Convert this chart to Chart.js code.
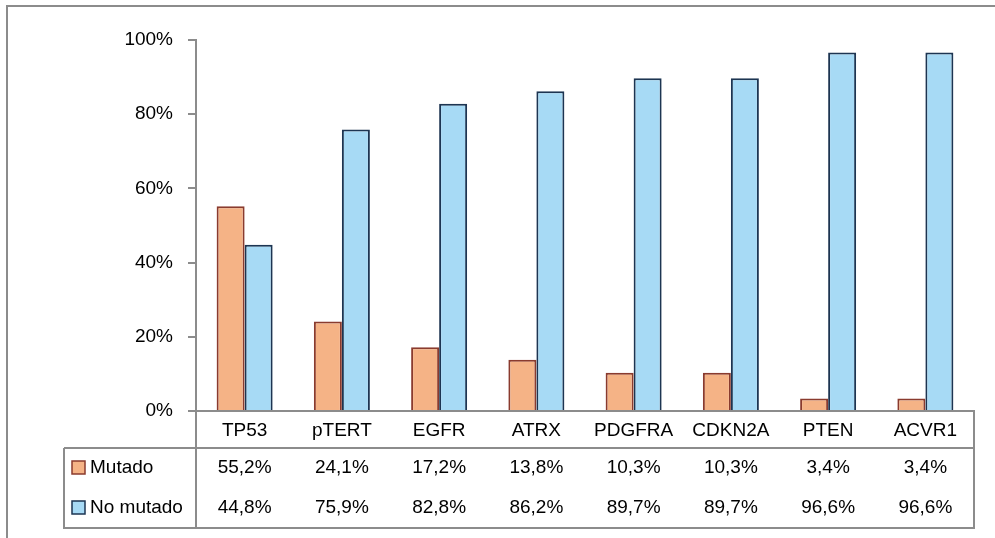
<!DOCTYPE html>
<html>
<head>
<meta charset="utf-8">
<script src="https://cdn.jsdelivr.net/npm/chart.js@4"></script>
<style>
  body { margin: 0; background: #fff; overflow: hidden; }
  canvas { display: block; }
</style>
</head>
<body>
<canvas id="myChart" width="995" height="538"></canvas>
<script>
var genes = ["TP53", "pTERT", "EGFR", "ATRX", "PDGFRA", "CDKN2A", "PTEN", "ACVR1"]
var mutado = [55.2, 24.1, 17.2, 13.8, 10.3, 10.3, 3.4, 3.4]
var noMutado = [44.8, 75.9, 82.8, 86.2, 89.7, 89.7, 96.6, 96.6]
var yTicks = [0, 20, 40, 60, 80, 100]

var lineGray = "#8c8c8c"

function pct(v) {
    return v.toFixed(1).replace(".", ",") + "%"
}

// outer frame of the chart box
var framePlugin = {
    id: "frame",
    beforeDraw: function(chart) {
        var ctx = chart.ctx
        ctx.save()
        ctx.strokeStyle = lineGray
        ctx.lineWidth = 2
        ctx.beginPath()
        ctx.moveTo(7, chart.height)
        ctx.lineTo(7, 6)
        ctx.lineTo(chart.width, 6)
        ctx.stroke()
        ctx.restore()
    }
}

// data table under the x axis, one row per series
var tablePlugin = {
    id: "dataTable",
    afterDraw: function(chart) {
        var ctx = chart.ctx
        var area = chart.chartArea
        var xs = chart.scales.x
        var rowTop = area.bottom + 37
        var rowH = 40
        var tableLeft = 64
        var bottom = rowTop + rowH * chart.data.datasets.length

        ctx.save()
        ctx.strokeStyle = lineGray
        ctx.lineWidth = 2
        ctx.beginPath()
        // label column divider (continues the y axis)
        ctx.moveTo(area.left, area.bottom)
        ctx.lineTo(area.left, bottom)
        // right edge
        ctx.moveTo(area.right, area.bottom)
        ctx.lineTo(area.right, bottom)
        // header row bottom
        ctx.moveTo(tableLeft, rowTop)
        ctx.lineTo(area.right, rowTop)
        // table bottom and left edge
        ctx.moveTo(tableLeft - 1, bottom)
        ctx.lineTo(area.right + 1, bottom)
        ctx.moveTo(tableLeft, rowTop)
        ctx.lineTo(tableLeft, bottom)
        ctx.stroke()

        ctx.font = "19px 'Liberation Sans', Arial, sans-serif"
        ctx.fillStyle = "#000"
        ctx.textBaseline = "middle"

        chart.data.datasets.forEach(function(ds, r) {
            var cy = rowTop + rowH * r + rowH / 2
            // legend key
            ctx.fillStyle = ds.backgroundColor
            ctx.fillRect(72, cy - 7, 13, 13)
            ctx.strokeStyle = ds.borderColor
            ctx.lineWidth = 1.5
            ctx.strokeRect(72, cy - 7, 13, 13)
            ctx.fillStyle = "#000"
            ctx.textAlign = "left"
            ctx.fillText(ds.label, 90, cy)
            ctx.textAlign = "center"
            ds.data.forEach(function(v, i) {
                ctx.fillText(pct(v), xs.getPixelForValue(i), cy)
            })
        })
        ctx.restore()
    }
}

Chart.defaults.font.family = "'Liberation Sans', Arial, sans-serif"
Chart.defaults.font.size = 19
Chart.defaults.color = "#000"

var myChart = document.getElementById("myChart").getContext("2d")

var chart = new Chart(myChart, {
    type: "bar",
    data: {
        labels: genes,
        datasets: [
            {
                label: "Mutado",
                data: mutado,
                backgroundColor: "#f5b386",
                borderColor: "#8a3b2e",
                borderWidth: 2
            },
            {
                label: "No mutado",
                data: noMutado,
                backgroundColor: "#a7daf5",
                borderColor: "#1d3552",
                borderWidth: 2
            }
        ]
    },
    options: {
        responsive: false,
        animation: false,
        categoryPercentage: 0.576,
        barPercentage: 1,
        layout: { padding: { top: 40, right: 21, left: 0, bottom: 0 } },
        plugins: {
            legend: { display: false },
            tooltip: { enabled: false }
        },
        scales: {
            x: {
                grid: { display: false, drawTicks: false },
                border: { display: true, color: lineGray, width: 2 },
                ticks: { padding: 8, maxRotation: 0 },
                afterFit: function(scale) { scale.height = 127 }
            },
            y: {
                min: 0,
                max: 100,
                afterBuildTicks: function(scale) {
                    scale.ticks = yTicks.map(function(v) { return { value: v } })
                },
                grid: {
                    drawOnChartArea: false,
                    drawTicks: true,
                    tickLength: 8,
                    color: lineGray,
                    lineWidth: 2
                },
                border: { display: true, color: lineGray, width: 2 },
                ticks: {
                    padding: 15,
                    callback: function(v) { return v + "%" }
                },
                afterFit: function(scale) { scale.width = 196 }
            }
        }
    },
    plugins: [framePlugin, tablePlugin]
})
</script>
</body>
</html>
